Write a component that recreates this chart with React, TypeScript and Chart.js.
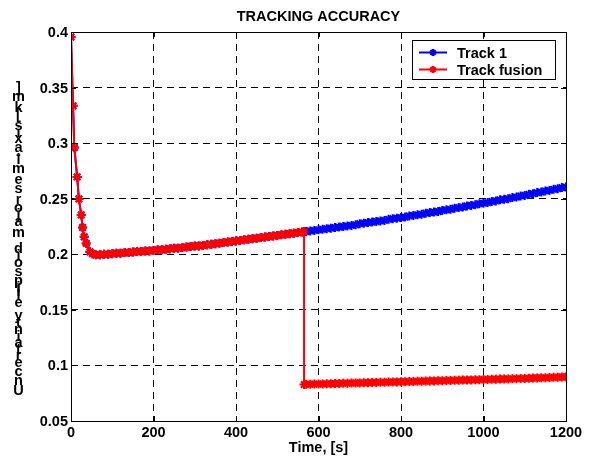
import React, { useEffect, useRef } from "react";
import { Chart, registerables } from "chart.js";

Chart.register(...registerables);

const TITLE = "TRACKING ACCURACY";
const X_TITLE = "Time, [s]";
const Y_TITLE = "Uncertainty ellipsoid major semi-axis [km]";
const SERIES_NAMES = ["Track 1", "Track fusion"];

const xTicks = [0, 200, 400, 600, 800, 1000, 1200];
const yTicks = [0.05, 0.1, 0.15, 0.2, 0.25, 0.3, 0.35, 0.4];
const yTickLabels = ["0.05", "0.1", "0.15", "0.2", "0.25", "0.3", "0.35", "0.4"];

// Track 1 (also the track fusion result until the fusion kicks in at ~565 s)
const times = [
  0, 5, 8, 15, 19, 25, 28, 32, 37, 46, 52,
  60, 70, 80, 90, 100, 110, 120, 130, 140, 150,
  160, 170, 180, 190, 200, 210, 220, 230, 240, 250,
  260, 270, 280, 290, 300, 310, 320, 330, 340, 350,
  360, 370, 380, 390, 400, 410, 420, 430, 440, 450,
  460, 470, 480, 490, 500, 510, 520, 530, 540, 550,
  560, 565, 570, 580, 590, 600, 610, 620, 630, 640, 650,
  660, 670, 680, 690, 700, 710, 720, 730, 740, 750,
  760, 770, 780, 790, 800, 810, 820, 830, 840, 850,
  860, 870, 880, 890, 900, 910, 920, 930, 940, 950,
  960, 970, 980, 990, 1000, 1010, 1020, 1030, 1040, 1050,
  1060, 1070, 1080, 1090, 1100, 1110, 1120, 1130, 1140, 1150,
  1160, 1170, 1180, 1190, 1200,
];
const track1 = [
  0.3955, 0.3336, 0.296, 0.2696, 0.2498, 0.2354, 0.2241, 0.2157, 0.2098, 0.2022, 0.2005,
  0.1995, 0.1995, 0.2, 0.2, 0.2005, 0.201, 0.201, 0.2015, 0.2015, 0.202,
  0.2025, 0.2025, 0.203, 0.203, 0.2035, 0.204, 0.204, 0.2045, 0.205, 0.2055,
  0.2055, 0.206, 0.2065, 0.207, 0.2075, 0.2075, 0.208, 0.2085, 0.209, 0.2095,
  0.21, 0.2105, 0.211, 0.2115, 0.212, 0.2125, 0.213, 0.2135, 0.214, 0.2145,
  0.215, 0.2155, 0.216, 0.2165, 0.217, 0.2175, 0.218, 0.2185, 0.219, 0.2195,
  0.22, 0.2202, 0.2205, 0.221, 0.2215, 0.222, 0.2225, 0.223, 0.2235, 0.224, 0.2245,
  0.225, 0.2255, 0.226, 0.2265, 0.2275, 0.228, 0.2285, 0.229, 0.2295, 0.23,
  0.2305, 0.2315, 0.232, 0.2325, 0.233, 0.2335, 0.2345, 0.235, 0.2355, 0.236,
  0.237, 0.2375, 0.238, 0.2385, 0.2395, 0.24, 0.2405, 0.2415, 0.242, 0.2425,
  0.2435, 0.244, 0.2445, 0.2455, 0.246, 0.2465, 0.2475, 0.248, 0.249, 0.2495,
  0.25, 0.251, 0.2515, 0.2525, 0.253, 0.254, 0.2545, 0.2555, 0.256, 0.257,
  0.2575, 0.2585, 0.259, 0.26, 0.2605,
];

// Track fusion after the drop
const fusionTimes = [
  565, 570, 580, 590, 600, 610, 620, 630, 640, 650,
  660, 670, 680, 690, 700, 710, 720, 730, 740, 750,
  760, 770, 780, 790, 800, 810, 820, 830, 840, 850,
  860, 870, 880, 890, 900, 910, 920, 930, 940, 950,
  960, 970, 980, 990, 1000, 1010, 1020, 1030, 1040, 1050,
  1060, 1070, 1080, 1090, 1100, 1110, 1120, 1130, 1140, 1150,
  1160, 1170, 1180, 1190, 1200,
];
const fusionValues = [
  0.0828, 0.083, 0.0831, 0.0832, 0.0833, 0.0834, 0.0835, 0.0836, 0.0837, 0.0838,
  0.0839, 0.084, 0.0841, 0.0842, 0.0843, 0.0844, 0.0845, 0.0846, 0.0847, 0.0848,
  0.0849, 0.085, 0.0851, 0.0852, 0.0853, 0.0854, 0.0855, 0.0856, 0.0857, 0.0858,
  0.0859, 0.086, 0.0861, 0.0862, 0.0863, 0.0864, 0.0865, 0.0866, 0.0867, 0.0868,
  0.0869, 0.087, 0.0871, 0.0872, 0.0873, 0.0874, 0.0875, 0.0876, 0.0877, 0.0878,
  0.0879, 0.088, 0.0881, 0.0882, 0.0883, 0.0884, 0.0886, 0.0887, 0.0889, 0.089,
  0.0891, 0.0893, 0.0894, 0.0896, 0.0897,
];
const FUSION_START = 565;

const BLUE = "#0000FF";
const RED = "#FF0000";
const FONT = "bold 14.5px 'Liberation Sans', Arial, sans-serif";

function drawStar(ctx: CanvasRenderingContext2D, x: number, y: number, r: number, color: string) {
  ctx.save();
  ctx.strokeStyle = color;
  ctx.lineWidth = 2;
  ctx.beginPath();
  ctx.moveTo(x - r, y); ctx.lineTo(x + r, y);
  ctx.moveTo(x, y - r); ctx.lineTo(x, y + r);
  const d = r * 0.707;
  ctx.moveTo(x - d, y - d); ctx.lineTo(x + d, y + d);
  ctx.moveTo(x - d, y + d); ctx.lineTo(x + d, y - d);
  ctx.stroke();
  ctx.restore();
}

const decorPlugin = {
  id: "matlabDecor",
  afterDraw(chart: any) {
    const ctx: CanvasRenderingContext2D = chart.ctx;
    const area = chart.chartArea;
    const xs = chart.scales.x;
    const ys = chart.scales.y;
    ctx.save();
    // box
    ctx.strokeStyle = "#000";
    ctx.lineWidth = 1;
    ctx.strokeRect(Math.round(area.left) + 0.5, Math.round(area.top) + 0.5,
      Math.round(area.right - area.left), Math.round(area.bottom - area.top));
    // inward ticks
    ctx.beginPath();
    xTicks.forEach((v) => {
      const px = Math.round(xs.getPixelForValue(v)) + 0.5;
      ctx.moveTo(px, area.bottom); ctx.lineTo(px, area.bottom - 5);
      ctx.moveTo(px, area.top); ctx.lineTo(px, area.top + 5);
    });
    yTicks.forEach((v) => {
      const py = Math.round(ys.getPixelForValue(v)) + 0.5;
      ctx.moveTo(area.left, py); ctx.lineTo(area.left + 5, py);
      ctx.moveTo(area.right, py); ctx.lineTo(area.right - 5, py);
    });
    ctx.stroke();

    ctx.fillStyle = "#000";
    ctx.font = FONT;
    // x tick labels
    ctx.textAlign = "center";
    ctx.textBaseline = "alphabetic";
    xTicks.forEach((v) => {
      ctx.fillText(String(v), xs.getPixelForValue(v), area.bottom + 16);
    });
    // y tick labels
    ctx.textAlign = "right";
    yTicks.forEach((v, i) => {
      ctx.fillText(yTickLabels[i], area.left - 3, ys.getPixelForValue(v) + 5);
    });
    // title
    ctx.textAlign = "center";
    ctx.fillText(TITLE, (area.left + area.right) / 2, 21);
    // x title
    ctx.fillText(X_TITLE, (area.left + area.right) / 2, 452);

    // y title: upright stacked glyphs, reading bottom to top
    const chars = Y_TITLE.split("");
    const advs = chars.map((c) => ctx.measureText(c).width);
    const total = advs.reduce((a, b) => a + b, 0);
    const bottom = 397, top = 85;
    const k = (bottom - top) / total;
    let cum = 0;
    ctx.textAlign = "center";
    ctx.textBaseline = "middle";
    chars.forEach((c, i) => {
      if (c !== " ") {
        ctx.fillText(c, 18.5, bottom - (cum + advs[i] / 2) * k);
      }
      cum += advs[i];
    });

    // legend
    const lx = 412, ly = 40, lw = 143, lh = 39;
    ctx.fillStyle = "#fff";
    ctx.fillRect(lx, ly, lw, lh);
    ctx.strokeStyle = "#000";
    ctx.lineWidth = 1;
    ctx.strokeRect(lx + 0.5, ly + 0.5, lw, lh);
    const rows = [{ y: 52.5, c: BLUE }, { y: 69.5, c: RED }];
    rows.forEach((r, i) => {
      ctx.strokeStyle = r.c;
      ctx.lineWidth = 2;
      ctx.beginPath();
      ctx.moveTo(419, r.y); ctx.lineTo(447, r.y);
      ctx.stroke();
      drawStar(ctx, 433, r.y, 3.5, r.c);
      ctx.fillStyle = "#000";
      ctx.textAlign = "left";
      ctx.textBaseline = "alphabetic";
      ctx.fillText(SERIES_NAMES[i], 457, r.y + 5);
    });
    ctx.restore();
  },
};

export default function App() {
  const ref = useRef<HTMLCanvasElement | null>(null);
  useEffect(() => {
    if (!ref.current) return;
    const track1Pts = times.map((t, i) => ({ x: t, y: track1[i] }));
    const fusionPts = times
      .map((t, i) => ({ x: t, y: track1[i] }))
      .filter((p) => p.x <= FUSION_START)
      .concat(fusionTimes.map((t, i) => ({ x: t, y: fusionValues[i] })));
    const chart = new Chart(ref.current, {
      type: "line",
      data: {
        datasets: [
          {
            label: SERIES_NAMES[1],
            data: fusionPts,
            borderColor: RED,
            backgroundColor: RED,
            borderWidth: 2,
            pointStyle: "star",
            pointRadius: 4.5,
            pointBorderWidth: 2,
            pointBorderColor: RED,
            tension: 0,
          },
          {
            label: SERIES_NAMES[0],
            data: track1Pts,
            borderColor: BLUE,
            backgroundColor: BLUE,
            borderWidth: 2,
            pointStyle: "star",
            pointRadius: 4.5,
            pointBorderWidth: 2,
            pointBorderColor: BLUE,
            tension: 0,
          },
        ],
      },
      options: {
        responsive: false,
        animation: false,
        parsing: false as any,
        normalized: true,
        layout: { padding: { top: 32, right: 28, bottom: 0, left: 0 } },
        plugins: {
          legend: { display: false },
          title: { display: false },
          tooltip: { enabled: false },
        },
        events: [],
        scales: {
          x: {
            type: "linear",
            min: 0,
            max: 1200,
            afterBuildTicks: (s: any) => { s.ticks = xTicks.map((v) => ({ value: v })); },
            afterFit: (s: any) => { s.height = 40; },
            ticks: { display: false },
            grid: { color: "#000", lineWidth: 1, drawTicks: false },
            border: { display: false, dash: [7, 5] },
          },
          y: {
            type: "linear",
            min: 0.05,
            max: 0.4,
            afterBuildTicks: (s: any) => { s.ticks = yTicks.map((v) => ({ value: v })); },
            afterFit: (s: any) => { s.width = 71; },
            ticks: { display: false },
            grid: { color: "#000", lineWidth: 1, drawTicks: false },
            border: { display: false, dash: [7, 5] },
          },
        },
      },
      plugins: [decorPlugin],
    });
    return () => chart.destroy();
  }, []);
  return (
    <div style={{ position: "fixed", left: 0, top: 0, width: 594, height: 461, background: "#fff" }}>
      <canvas ref={ref} width={594} height={461} style={{ display: "block", width: 594, height: 461 }} />
    </div>
  );
}
